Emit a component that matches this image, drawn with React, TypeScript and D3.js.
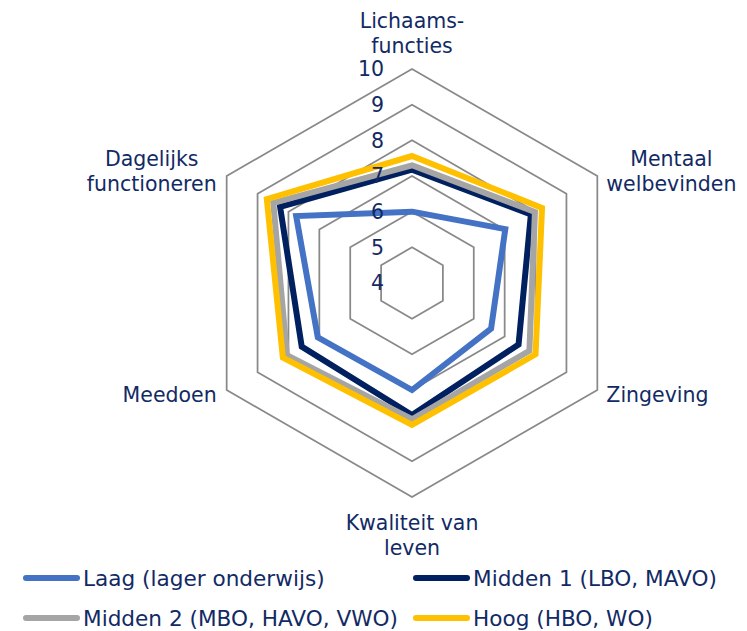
import { useEffect, useRef } from 'react'
import * as d3 from 'd3'

const categoryLines: string[][] = [
  ['Lichaams-', 'functies'],
  ['Mentaal', 'welbevinden'],
  ['Zingeving'],
  ['Kwaliteit van', 'leven'],
  ['Meedoen'],
  ['Dagelijks', 'functioneren'],
]
const ticks = [4, 5, 6, 7, 8, 9, 10]

const seriesNames = [
  'Laag (lager onderwijs)',
  'Midden 1 (LBO, MAVO)',
  'Midden 2 (MBO, HAVO, VWO)',
  'Hoog (HBO, WO)',
]
const laag = [6.0, 7.02, 6.56, 7.0, 7.05, 7.75]
const midden1 = [7.18, 7.85, 7.45, 7.7, 7.57, 8.27]
const midden2 = [7.3, 7.98, 7.8, 7.82, 8.05, 8.49]
const hoog = [7.56, 8.21, 8.0, 7.98, 8.18, 8.7]
const colors = ['#4472C4', '#002060', '#A5A5A5', '#FFC000']

const TEXT = '#122a64'
const FONT = '"DejaVu Sans", Verdana, sans-serif'

function RadarChart() {
  const ref = useRef<SVGSVGElement | null>(null)

  useEffect(() => {
    document.body.style.margin = '0'
    const svgEl = ref.current
    if (!svgEl) return
    const svg = d3.select(svgEl)
    svg.selectAll('*').remove()

    const width = 747
    const height = 631
    const cx = 412
    const cy = 283
    const rScale = d3.scaleLinear().domain([4, 10]).range([0, 214])
    const n = categoryLines.length
    const angle = (i: number) => (i * 2 * Math.PI) / n
    const pt = (i: number, v: number): [number, number] => [
      cx + rScale(v) * Math.sin(angle(i)),
      cy - rScale(v) * Math.cos(angle(i)),
    ]

    svg.attr('width', width).attr('height', height).attr('viewBox', `0 0 ${width} ${height}`)

    const closed = d3.line().curve(d3.curveLinearClosed)

    // grid rings
    const grid = svg.append('g')
    ticks
      .filter((t) => t > 4)
      .forEach((t) => {
        grid
          .append('path')
          .attr('d', closed(d3.range(n).map((i) => pt(i, t))))
          .attr('fill', 'none')
          .attr('stroke', '#898989')
          .attr('stroke-width', 1.75)
      })

    // series
    const allSeries = [laag, midden1, midden2, hoog]
    allSeries.forEach((vals, s) => {
      svg
        .append('path')
        .attr('d', closed(vals.map((v, i) => pt(i, v))))
        .attr('fill', 'none')
        .attr('stroke', colors[s])
        .attr('stroke-width', 6)
        .attr('stroke-linejoin', 'miter')
    })

    // tick labels
    ticks.forEach((t) => {
      svg
        .append('text')
        .attr('x', cx - 28)
        .attr('y', cy - rScale(t))
        .attr('dy', '0.36em')
        .attr('text-anchor', 'end')
        .attr('font-family', FONT)
        .attr('font-size', 20.5)
        .attr('fill', TEXT)
        .text(t)
    })

    // axis labels
    const lh = 25
    categoryLines.forEach((lines, i) => {
      const [vx, vy] = pt(i, 10)
      const g = svg.append('g')
      const txt = g
        .append('text')
        .attr('text-anchor', 'middle')
        .attr('font-family', FONT)
        .attr('font-size', 20.5)
        .attr('fill', TEXT)
      lines.forEach((l, k) => {
        txt.append('tspan').attr('x', 0).attr('y', k * lh).text(l)
      })
      const bb = (txt.node() as SVGTextElement).getBBox()
      let tx = vx
      let ty = vy
      if (i === 0) {
        ty = vy - 16 - (lines.length - 1) * lh
      } else if (i === n / 2) {
        ty = vy + 33
      } else {
        const right = Math.sin(angle(i)) > 0
        tx = right ? vx + 9 - bb.x : vx - 10 - (bb.x + bb.width)
        ty = vy + 12 - (lines.length - 1) * 22
      }
      g.attr('transform', `translate(${tx},${ty})`)
    })

    // legend
    const legend = svg.append('g')
    seriesNames.forEach((name, s) => {
      const col = s % 2
      const row = Math.floor(s / 2)
      const x0 = col === 0 ? 26 : 416
      const y0 = 578 + row * 40
      legend
        .append('line')
        .attr('x1', x0)
        .attr('x2', x0 + 51)
        .attr('y1', y0)
        .attr('y2', y0)
        .attr('stroke', colors[s])
        .attr('stroke-width', 6)
        .attr('stroke-linecap', 'round')
      legend
        .append('text')
        .attr('x', x0 + 57)
        .attr('y', y0 + 7.5)
        .attr('font-family', FONT)
        .attr('font-size', 21.6)
        .attr('fill', TEXT)
        .text(name)
    })
  }, [])

  return <svg ref={ref} style={{ display: 'block' }} />
}

export default function App() {
  return <RadarChart />
}
